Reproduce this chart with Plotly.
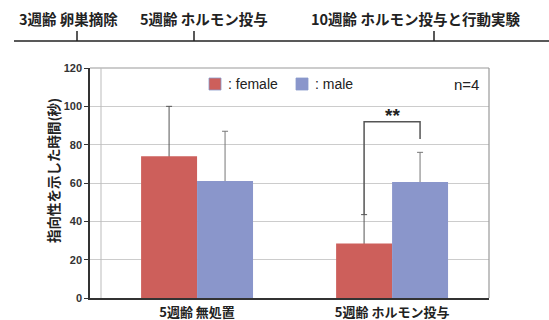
import plotly.graph_objects as go

categories = ["5週齢 無処置", "5週齢 ホルモン投与"]
female = [74, 28.5]
female_err = [26, 15]
male = [61, 60.5]
male_err = [26, 15.5]
y_ticks = [0, 20, 40, 60, 80, 100, 120]
timeline_labels = ["3週齢 卵巣摘除", "5週齢 ホルモン投与", "10週齢 ホルモン投与と行動実験"]
y_title = "指向性を示した時間(秒)"

RED = "#CD5F5B"
BLUE = "#8A96CB"
JP = "Noto Sans CJK JP"

W, H = 549, 320
L, R, T, B = 90, 489, 68, 298


def px(x):
    return (x - L) / (R - L)


def py(y):
    return (B - y) / (B - T)


fig = go.Figure()
# error bars (one-sided, upper cap only): drawn first, from an invisible bar at value+err
for vals, errs, grp, col in [(female, female_err, "f", "#555"), (male, male_err, "m", "#777")]:
    fig.add_bar(x=categories, y=[v + e for v, e in zip(vals, errs)], offsetgroup=grp,
                marker_color="rgba(0,0,0,0)", marker_line_width=0, hoverinfo="skip",
                error_y=dict(type="data", array=[0] * len(errs),
                             arrayminus=[e + 2 for e in errs], symmetric=False,
                             visible=True, color=col, thickness=1, width=3),
                showlegend=False)
fig.add_bar(x=categories, y=female, name=": female", marker_color=RED, offsetgroup="f",
            marker_line_width=0, showlegend=False)
fig.add_bar(x=categories, y=male, name=": male", marker_color=BLUE, offsetgroup="m",
            marker_line_width=0, showlegend=False)

shapes = []
annotations = []

# frame: top, right, inner left
shapes.append(dict(type="line", xref="paper", yref="paper", x0=0, x1=1, y0=1, y1=1,
                   line=dict(color="#999", width=1.2)))
shapes.append(dict(type="line", xref="paper", yref="paper", x0=1, x1=1, y0=0, y1=1,
                   line=dict(color="#999", width=1.2)))
shapes.append(dict(type="line", xref="paper", yref="paper", x0=px(101), x1=px(101), y0=0, y1=1,
                   line=dict(color="#bbb", width=1)))

# significance bracket
g = 0.574
fx = 1 - g / 4
mx = 1 + g / 4
top = 92
shapes.append(dict(type="path", xref="x", yref="y",
                   path=f"M {fx},{female[1] + female_err[1]} L {fx},{top} L {mx},{top} L {mx},83",
                   line=dict(color="#555", width=1.5)))
annotations.append(dict(x=1, y=95, xref="x", yref="y", text="<b>**</b>", showarrow=False,
                        yanchor="middle", font=dict(family="Liberation Sans", size=19, color="#222")))

# legend (manual)
for cx, col, label in [(215, RED, ": female"), (302, BLUE, ": male")]:
    shapes.append(dict(type="rect", xref="paper", yref="paper",
                       x0=px(cx - 6), x1=px(cx + 6), y0=py(84 + 6), y1=py(84 - 6),
                       fillcolor=col, line=dict(color="#8899cc", width=0.8)))
    annotations.append(dict(x=px(cx + 11), y=py(84), xref="paper", yref="paper", text=label,
                            showarrow=False, xanchor="left", yanchor="middle",
                            font=dict(family="Liberation Sans", size=14, color="#222")))
annotations.append(dict(x=px(481), y=py(84), xref="paper", yref="paper", text="n=4",
                        showarrow=False, xanchor="right", yanchor="middle",
                        font=dict(family="Liberation Sans", size=15, color="#222")))

# timeline
shapes.append(dict(type="line", xref="paper", yref="paper", x0=px(14), x1=px(549),
                   y0=py(41), y1=py(41), line=dict(color="#222", width=1.5)))
for tx in [77, 194, 434]:
    shapes.append(dict(type="line", xref="paper", yref="paper", x0=px(tx), x1=px(tx),
                       y0=py(41), y1=py(31), line=dict(color="#222", width=1.5)))
for cx, lab in zip([68.5, 203.5, 415], timeline_labels):
    annotations.append(dict(x=px(cx), y=py(19), xref="paper", yref="paper", text=lab,
                            showarrow=False, xanchor="center", yanchor="middle",
                            font=dict(family=JP, size=14.5, color="#222", weight="bold")))

# y title
annotations.append(dict(x=px(53), y=py(171), xref="paper", yref="paper", text=y_title,
                        textangle=-90, showarrow=False, xanchor="center", yanchor="middle",
                        font=dict(family=JP, size=13.5, color="#222", weight="bold")))

fig.update_layout(
    width=W, height=H,
    margin=dict(l=L, r=W - R, t=T, b=H - B, pad=0, autoexpand=False),
    paper_bgcolor="white", plot_bgcolor="white",
    barmode="group", bargap=0.426, bargroupgap=0,
    shapes=shapes, annotations=annotations,
    showlegend=False,
)
fig.update_xaxes(range=[-0.549, 1.497], showline=True, linecolor="#333", linewidth=1.5,
                 ticks="", showgrid=False, automargin=False, ticklabelstandoff=2,
                 tickfont=dict(family=JP, size=13, color="#222", weight="bold"))
fig.update_yaxes(range=[0, 120], tickvals=y_ticks, showline=True, linecolor="#333", linewidth=1.5,
                 ticks="outside", ticklen=4, tickcolor="#333", tickwidth=1.2,
                 showgrid=True, gridcolor="#ccc", gridwidth=1, zeroline=False, automargin=False,
                 tickfont=dict(family="Liberation Sans", size=11, color="#333", weight="bold"))

fig.write_html("out.html")
